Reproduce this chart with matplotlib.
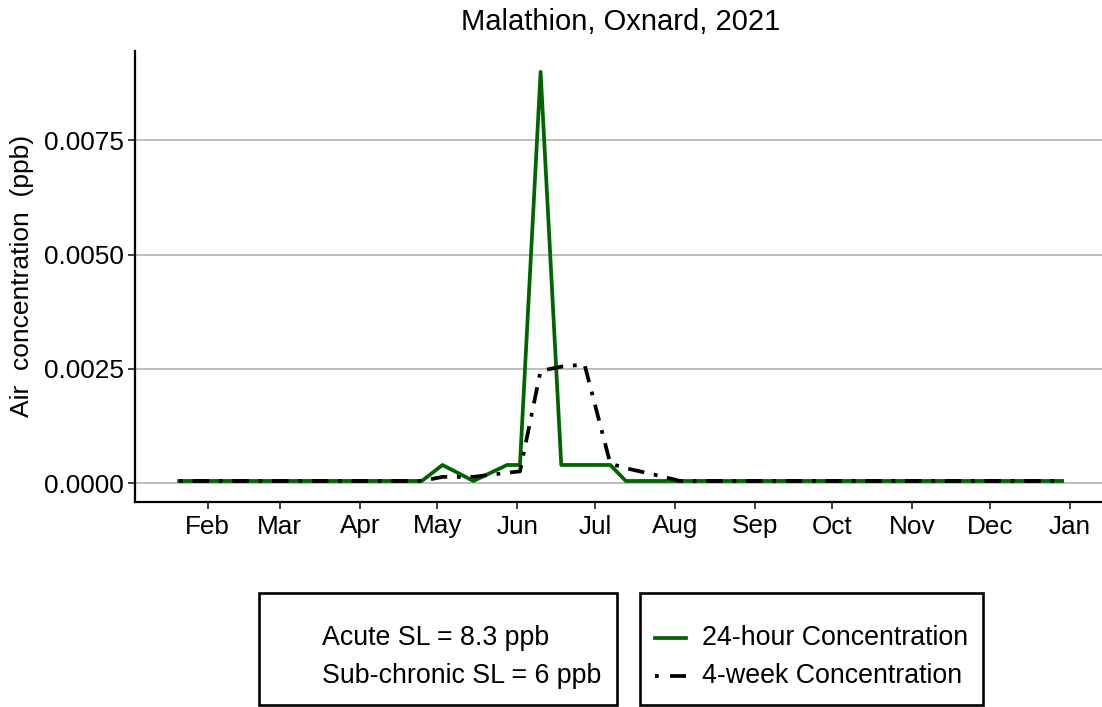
import datetime as dt
import matplotlib
matplotlib.use("Agg")
import matplotlib.pyplot as plt
from matplotlib.patches import Rectangle
from matplotlib.lines import Line2D

plt.rcParams['font.family'] = ['Liberation Sans', 'DejaVu Sans']

# ---- data ----
hour24_dates = ["2021-01-21", "2021-04-25", "2021-05-03", "2021-05-15", "2021-05-28",
                "2021-06-02", "2021-06-10", "2021-06-18", "2021-07-07", "2021-07-13",
                "2021-12-29"]
hour24_values = [0.00005, 0.00005, 0.0004, 0.00005, 0.0004,
                 0.0004, 0.009, 0.0004, 0.0004, 0.00005,
                 0.00005]

week4_dates = ["2021-01-21", "2021-04-25", "2021-05-03", "2021-05-15", "2021-05-28",
               "2021-06-02", "2021-06-10", "2021-06-18", "2021-06-27", "2021-07-07",
               "2021-07-13", "2021-07-20", "2021-07-27", "2021-08-03", "2021-12-29"]
week4_values = [0.00005, 0.00005, 0.00014, 0.00014, 0.00023,
                0.00026, 0.00246, 0.00255, 0.0026, 0.00043,
                0.00033, 0.00024, 0.00015, 0.00005, 0.00005]

month_ticks = ["2021-02-01", "2021-03-01", "2021-04-01", "2021-05-01", "2021-06-01",
               "2021-07-01", "2021-08-01", "2021-09-01", "2021-10-01", "2021-11-01",
               "2021-12-01", "2022-01-01"]
month_labels = ["Feb", "Mar", "Apr", "May", "Jun", "Jul", "Aug", "Sep", "Oct", "Nov", "Dec", "Jan"]

y_ticks = [0.0, 0.0025, 0.0050, 0.0075]
y_labels = ["0.0000", "0.0025", "0.0050", "0.0075"]

title = "Malathion, Oxnard, 2021"
ylabel = "Air  concentration  (ppb)"
sl_texts = ["Acute SL = 8.3 ppb", "Sub-chronic SL = 6 ppb"]
series_labels = ["24-hour Concentration", "4-week Concentration"]

def to_dt(s):
    return dt.datetime.strptime(s, "%Y-%m-%d")

W, H = 1102, 707
fig = plt.figure(figsize=(W / 100, H / 100), dpi=100)

def fx(px):
    return px / W

def fy(py):
    return 1 - py / H

ax_left, ax_right, ax_top, ax_bottom = 135, 1106.4, 51.3, 502
ax = fig.add_axes([fx(ax_left), fy(ax_bottom), fx(ax_right - ax_left), (ax_bottom - ax_top) / H])

green = "#006400"
LW = 2.7
dotdash = (0, (1, 2.6, 4.4, 2.6))

ax.plot([to_dt(d) for d in hour24_dates], hour24_values, color=green, lw=LW,
        solid_joinstyle="round", zorder=3)
ax.plot([to_dt(d) for d in week4_dates], week4_values, color="black", lw=LW,
        linestyle=dotdash, dash_capstyle="butt", zorder=4)

ax.set_xlim(dt.datetime(2021, 1, 3, 22), dt.datetime(2022, 1, 15, 3))
ax.set_ylim(-0.00041, 0.00945)

ax.set_xticks([to_dt(d) for d in month_ticks])
ax.set_xticklabels(month_labels)
ax.set_yticks(y_ticks)
ax.set_yticklabels(y_labels)

ax.tick_params(axis="both", labelsize=18.8, length=5, width=1.3, color="#333333",
               labelcolor="black")
ax.tick_params(axis="y", pad=3)
ax.tick_params(axis="x", pad=4)

ax.grid(axis="y", color="#BEBEBE", lw=1.4)
ax.set_axisbelow(True)
for s in ["top", "right"]:
    ax.spines[s].set_visible(False)
for s in ["left", "bottom"]:
    ax.spines[s].set_linewidth(1.6)
    ax.spines[s].set_color("black")

fig.text(fx((ax_left + ax_right) / 2), fy(22), title, ha="center", va="center", fontsize=21)
fig.text(fx(22), fy(276), ylabel, ha="center", va="center", rotation=90, fontsize=19)

# ---- legend boxes ----
for (l, r) in [(259, 617), (640, 983)]:
    rect = Rectangle((fx(l), fy(705)), fx(r - l), (705 - 593) / H, transform=fig.transFigure,
                     fill=False, edgecolor="black", lw=1.9)
    fig.add_artist(rect)

row_y = [638, 676]
for i, t in enumerate(sl_texts):
    fig.text(fx(322), fy(row_y[i]), t, ha="left", va="center", fontsize=19.3)

fig.add_artist(Line2D([fx(655), fx(686)], [fy(row_y[0])] * 2, transform=fig.transFigure,
                      color=green, lw=LW))
fig.add_artist(Line2D([fx(655), fx(686)], [fy(row_y[1])] * 2, transform=fig.transFigure,
                      color="black", lw=LW, linestyle=(0, (1, 3, 4.4, 3)), dash_capstyle="butt"))
for i, t in enumerate(series_labels):
    fig.text(fx(702), fy(row_y[i]), t, ha="left", va="center", fontsize=19.3)

fig.savefig("out.png", dpi=100)
